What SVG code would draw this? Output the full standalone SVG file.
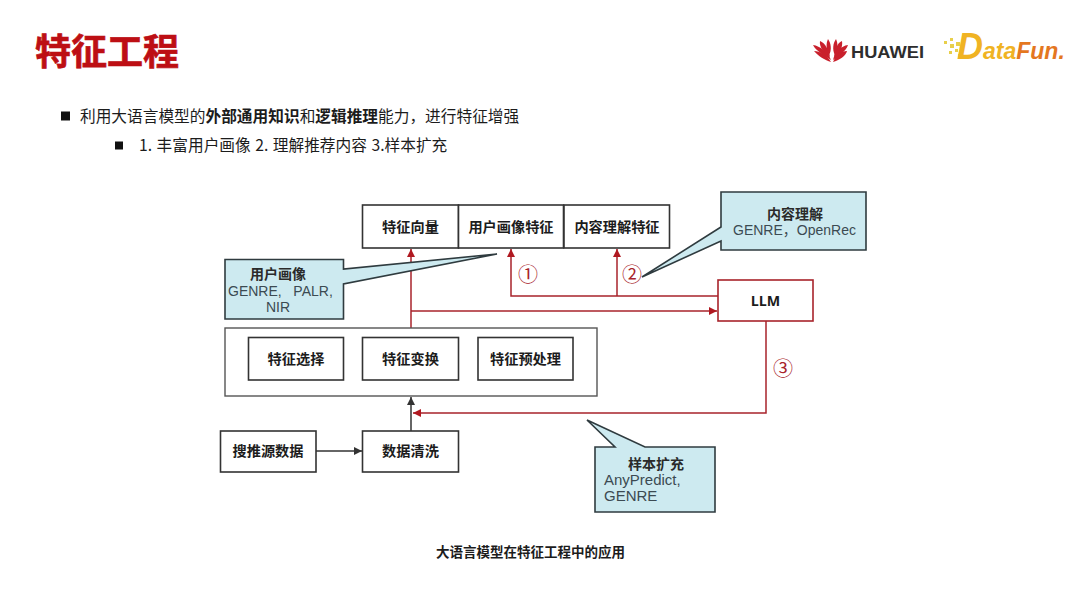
<svg xmlns="http://www.w3.org/2000/svg" width="1080" height="608" viewBox="0 0 1080 608">
<style>
text{font-family:"Noto Sans CJK SC","Noto Sans",sans-serif;fill:#1c1c1c}
.b{fill:#fff;stroke:#333;stroke-width:1.6}
.big{fill:#fff;stroke:#555;stroke-width:1.4}
.l{font-size:14.2px;font-weight:700;text-anchor:middle}
.c{fill:#cdeaf0;stroke:#2f3b3f;stroke-width:1.6}
.ct{font-size:14px;font-weight:700;text-anchor:middle;fill:#2a2a2a}
.cl{font-family:"Liberation Sans","Noto Sans CJK SC",sans-serif;font-size:14px;fill:#3c4a52;white-space:pre}
.r{fill:none;stroke:#a8232b;stroke-width:1.5}
.k{fill:none;stroke:#333;stroke-width:1.5}
.n{font-size:20px;fill:#a8232b;text-anchor:middle}
.p{font-size:15.7px}
.s{font-weight:700}
</style>
<defs>
<marker id="ar" markerUnits="userSpaceOnUse" markerWidth="9" markerHeight="8" refX="8" refY="4" orient="auto"><path d="M0 0L8 4L0 8Z" fill="#b01820"/></marker>
<marker id="ak" markerUnits="userSpaceOnUse" markerWidth="9" markerHeight="8" refX="8" refY="4" orient="auto"><path d="M0 0L8 4L0 8Z" fill="#333"/></marker>
</defs>
<rect width="1080" height="608" fill="#fff"/>
<g id="header">
<text x="35" y="65" font-size="36" font-weight="700" style="fill:#bd0f14;stroke:#bd0f14;stroke-width:.7">特征工程</text>
<rect x="61" y="111.500" width="9" height="9" fill="#111"/>
<text class="p" x="80" y="121.500">利用大语言模型的<tspan class="s">外部通用知识</tspan>和<tspan class="s">逻辑推理</tspan>能力，进行特征增强</text>
<rect x="115" y="141.500" width="8" height="8" fill="#111"/>
<text x="139" y="151" font-size="15.700" word-spacing="1">1. 丰富用户画像 2. 理解推荐内容 3.样本扩充</text>
</g>
<g id="logo-huawei">
<g fill="#c9202c">
<path d="M831 62C825 60 818 56 814 51C820 51 827 55 831 62Z"/>
<path d="M831 60C824 55 816 51 813 45C820 46 828 52 831 60Z"/>
<path d="M830 57C824 53 819 47 820 41C825 43 829 50 830 57Z"/>
<path d="M829 55C826 50 826 43 828 39C831 43 832 50 829 55Z"/>
<path d="M833 62C839 60 846 56 847 51C841 51 836 55 833 62Z"/>
<path d="M833 60C840 55 846 51 848 45C841 46 835 52 833 60Z"/>
<path d="M834 57C840 53 843 47 842 41C837 43 835 50 834 57Z"/>
<path d="M835 55C838 50 838 43 836 39C833 43 832 50 835 55Z"/>
</g>
<text x="851" y="58" font-size="16.500" font-weight="700" style="font-family:'Liberation Sans',sans-serif;fill:#2d2d2d" textLength="73" lengthAdjust="spacingAndGlyphs">HUAWEI</text>
</g>
<g id="logo-datafun">
<g fill="#e8cf4a">
<rect x="944" y="41" width="3" height="3"/><rect x="950" y="38" width="3" height="3"/><rect x="950" y="44" width="4" height="4"/><rect x="956" y="42" width="4" height="4"/><rect x="949" y="51" width="3" height="3"/><rect x="955" y="49" width="3" height="3"/><rect x="958" y="54" width="3" height="3"/>
</g>
<text x="957" y="59" font-size="36" font-weight="700" font-style="italic" style="font-family:'Liberation Sans',sans-serif;fill:#f0b323">D<tspan font-size="23">ata</tspan><tspan font-size="23" style="fill:#e4771f">Fun.</tspan></text>
</g>
<g id="connectors">
<path class="r" d="M411 328V249" marker-end="url(#ar)"/>
<path class="r" d="M411 311H717" marker-end="url(#ar)"/>
<path class="r" d="M718 296H511V249" marker-end="url(#ar)"/>
<path class="r" d="M617 296V249" marker-end="url(#ar)"/>
<path class="r" d="M766 321V413H413" marker-end="url(#ar)"/>
<path class="k" d="M411 431V397" marker-end="url(#ak)"/>
<path class="k" d="M316 451H362" marker-end="url(#ak)"/>
</g>
<g id="n-vector"><rect class="b" x="362.500" y="205" width="96" height="43"/><text class="l" x="410.500" y="232">特征向量</text></g>
<g id="n-user"><rect class="b" x="458.500" y="205" width="105" height="43"/><text class="l" x="511" y="232">用户画像特征</text></g>
<g id="n-content"><rect class="b" x="564" y="205" width="105.500" height="43"/><text class="l" x="617" y="232">内容理解特征</text></g>
<g id="n-llm"><rect x="718" y="280" width="95" height="41" fill="#fff" stroke="#a8232b" stroke-width="1.600"/><text class="l" x="765.500" y="306" style="font-family:'Open Sans',sans-serif">LLM</text></g>
<g id="n-group"><rect class="big" x="225" y="328" width="372" height="68"/></g>
<g id="n-select"><rect class="b" x="248.500" y="337.500" width="95" height="42.500"/><text class="l" x="296" y="364">特征选择</text></g>
<g id="n-transform"><rect class="b" x="362.500" y="337.500" width="96" height="42.500"/><text class="l" x="410.500" y="364">特征变换</text></g>
<g id="n-preprocess"><rect class="b" x="478" y="337.500" width="95" height="42.500"/><text class="l" x="525.500" y="364">特征预处理</text></g>
<g id="n-source"><rect class="b" x="220.500" y="431" width="95.500" height="41"/><text class="l" x="268" y="456">搜推源数据</text></g>
<g id="n-clean"><rect class="b" x="362.500" y="431" width="96" height="41"/><text class="l" x="410.500" y="456">数据清洗</text></g>
<g id="labels-num">
<text class="n" x="528" y="282">①</text>
<text class="n" x="632" y="282">②</text>
<text class="n" x="783" y="376">③</text>
</g>
<g id="callout-user">
<path class="c" d="M225 259.500H343.500V269L497 254L343.500 284V319H225Z"/>
<text class="ct" x="278" y="279">用户画像</text>
<text class="cl" x="228" y="296">GENRE,   PALR,</text>
<text class="cl" x="278" y="312" text-anchor="middle">NIR</text>
</g>
<g id="callout-content">
<path class="c" d="M721 192H866V250H721V241L642 277L721 227Z"/>
<text class="ct" x="795" y="219">内容理解</text>
<text class="cl" x="733" y="235">GENRE，OpenRec</text>
</g>
<g id="callout-sample">
<path class="c" d="M595 447H615L587 420L645 447H715V512H595Z"/>
<text class="ct" x="656" y="468.500">样本扩充</text>
<text class="cl" x="604" y="485" font-size="15" style="font-size:15px">AnyPredict,</text>
<text class="cl" x="604" y="501" style="font-size:15px">GENRE</text>
</g>
<text id="caption" x="530.500" y="557" font-size="13.500" font-weight="700" text-anchor="middle">大语言模型在特征工程中的应用</text>
</svg>
